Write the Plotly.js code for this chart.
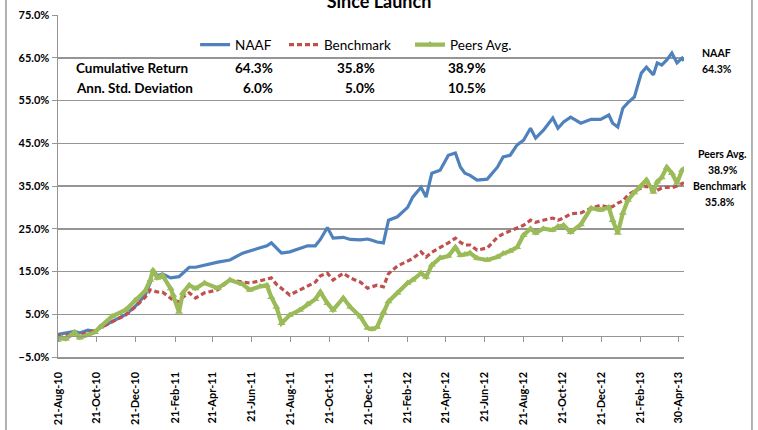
<!DOCTYPE html>
<html>
<head>
<meta charset="utf-8">
<script src="https://cdn.plot.ly/plotly-3.0.1.min.js"></script>
<style>
html,body{margin:0;padding:0;background:#fff;}
#chart{width:758px;height:430px;}
</style>
</head>
<body>
<div id="chart"></div>
<script>
// ---- data ----
const dates = [
'2010-08-21','2010-08-27','2010-09-02','2010-09-16','2010-09-24','2010-10-07','2010-10-18','2010-10-26',
'2010-11-14','2010-12-05','2010-12-20','2011-01-05','2011-01-13','2011-01-17','2011-01-24','2011-02-01',
'2011-02-14','2011-02-18','2011-02-27','2011-03-05','2011-03-15','2011-03-25','2011-04-08','2011-04-29',
'2011-05-18','2011-06-07','2011-06-18','2011-07-04','2011-07-15','2011-07-22','2011-07-30','2011-08-07',
'2011-08-20','2011-09-05','2011-09-17','2011-09-29','2011-10-07','2011-10-18','2011-10-27','2011-11-12',
'2011-11-23','2011-12-09','2011-12-20','2011-12-27','2012-01-04','2012-01-14','2012-01-22','2012-02-05',
'2012-02-21','2012-02-29','2012-03-13','2012-03-21','2012-03-30','2012-04-12','2012-04-25','2012-05-06',
'2012-05-14','2012-05-21','2012-05-29','2012-06-09','2012-06-25','2012-07-11','2012-07-20','2012-07-31',
'2012-08-11','2012-08-21','2012-09-01','2012-09-09','2012-09-21','2012-10-06','2012-10-14','2012-10-23',
'2012-11-03','2012-11-19','2012-12-05','2012-12-20','2013-01-02','2013-01-08','2013-01-16','2013-01-24',
'2013-02-01','2013-02-11','2013-02-22','2013-03-02','2013-03-13','2013-03-19','2013-03-26','2013-04-03',
'2013-04-11','2013-04-19','2013-04-27','2013-04-30'
];
const naaf = [
0.3,0.5,0.6,1.0,0.6,1.3,1.0,1.8,
3.3,4.9,6.8,9.5,12.5,15.5,14.0,14.4,
13.5,13.6,13.8,14.6,16.0,16.0,16.5,17.2,
17.7,19.3,19.8,20.5,21.0,21.7,20.5,19.3,
19.6,20.4,21.0,21.0,22.5,25.3,22.8,23.0,
22.5,22.4,22.6,22.3,21.9,21.7,27.0,27.8,
30.0,32.4,34.7,32.4,38.0,38.7,42.2,42.7,
39.4,38.0,37.5,36.4,36.6,39.4,41.8,42.2,
44.6,45.7,48.5,46.2,48.0,50.9,48.5,50.0,
51.1,49.7,50.6,50.6,51.6,49.7,48.8,53.2,
54.5,55.8,61.4,62.8,61.0,63.8,63.3,64.5,
66.1,63.8,64.9,64.3
];
const bench = [
0.0,-0.2,0.1,0.4,0.2,0.8,1.2,1.8,
3.2,4.8,6.7,9.0,10.7,10.5,10.2,10.2,
8.8,8.3,7.9,9.0,10.0,8.8,10.0,10.7,
13.0,12.5,12.3,12.8,13.2,13.5,12.0,11.1,
9.5,10.7,11.5,12.5,14.0,14.6,13.0,14.6,
13.5,12.5,11.1,11.5,11.8,11.4,14.5,16.3,
17.3,18.0,19.6,18.4,19.5,20.5,21.7,22.8,
21.8,21.2,21.2,20.0,20.5,23.0,23.8,24.5,
25.2,25.8,27.0,26.5,27.0,27.5,27.0,27.5,
28.5,28.7,29.8,30.5,30.0,30.2,31.0,31.5,
32.9,33.8,34.5,35.0,33.6,34.0,34.5,34.7,
34.6,35.0,35.7,35.8
];
const peers = [
-1.0,-0.5,-0.8,0.8,-0.5,0.1,0.8,2.0,
4.5,6.0,8.3,10.5,13.0,15.3,13.5,14.1,
11.0,9.5,5.5,10.0,11.8,11.0,12.3,11.1,
13.0,12.0,10.7,11.5,11.8,9.0,6.7,2.9,
4.8,6.0,7.4,8.5,10.2,7.6,6.0,8.8,
6.7,4.4,1.8,1.5,2.0,5.5,8.0,10.0,
12.3,13.0,14.6,13.7,16.5,18.2,18.6,20.7,
18.8,19.0,19.3,18.1,17.7,18.4,19.2,19.8,
20.7,23.5,25.0,24.0,25.0,24.7,25.5,25.8,
24.2,26.0,29.8,29.4,30.0,27.0,24.0,28.7,
31.7,33.5,35.0,36.4,33.6,36.0,37.0,39.4,
38.0,35.7,38.7,38.9
];
const seriesNames = ['NAAF','Benchmark','Peers Avg.'];
const statLabels = ['Cumulative Return','Ann. Std. Deviation'];
const cumReturn = [64.3, 35.8, 38.9];
const annStdDev = [6.0, 5.0, 10.5];
const tickDates = ['2010-08-21','2010-10-21','2010-12-21','2011-02-21','2011-04-21','2011-06-21',
'2011-08-21','2011-10-21','2011-12-21','2012-02-21','2012-04-21','2012-06-21','2012-08-21',
'2012-10-21','2012-12-21','2013-02-21','2013-04-21'];
const tickLabels = ['21-Aug-10','21-Oct-10','21-Dec-10','21-Feb-11','21-Apr-11','21-Jun-11',
'21-Aug-11','21-Oct-11','21-Dec-11','21-Feb-12','21-Apr-12','21-Jun-12','21-Aug-12',
'21-Oct-12','21-Dec-12','21-Feb-13','30-Apr-13'];
const titleText = 'Since Launch';

// ---- style ----
const FONT = 'Lato, "Open Sans", sans-serif';
const GRID = '#959595';
const colors = ['#4F81BD', '#C0504D', '#9BBB59'];
const xRange = ['2010-08-21', '2013-04-30'];

const traces = [
  {x: dates, y: naaf, name: seriesNames[0], type: 'scatter', mode: 'lines',
   line: {color: colors[0], width: 3.2}, legend: 'legend'},
  {x: dates, y: bench, name: seriesNames[1], type: 'scatter', mode: 'lines',
   line: {color: colors[1], width: 3.2, dash: '5px,3px'}, legend: 'legend2'},
  {x: dates, y: peers, name: seriesNames[2], type: 'scatter', mode: 'lines+markers',
   line: {color: colors[2], width: 4.2},
   marker: {symbol: 'triangle-up', size: 7, color: colors[2]}, legend: 'legend3'},
  // carrier for the 0% axis line with tick marks
  {x: [dates[0]], y: [null], xaxis: 'x2', yaxis: 'y', showlegend: false, hoverinfo: 'skip',
   mode: 'lines'}
];

const bold = (s) => '<b>' + s + '</b>';
const annotations = [];
// statistics table
const valueRightEdges = [0.3466, 0.5096, 0.6869];
const statRowsY = [0.845, 0.7865];
const statRows = [cumReturn, annStdDev];
statLabels.forEach((lab, r) => {
  annotations.push({text: bold(lab), xref: 'paper', yref: 'paper', x: 0.025, y: statRowsY[r],
    xanchor: 'left', yanchor: 'middle', showarrow: false, font: {family: FONT, size: 13.5, color: '#000'}});
  statRows[r].forEach((v, c) => {
    annotations.push({text: bold(v.toFixed(1) + '%'), xref: 'paper', yref: 'paper', x: valueRightEdges[c],
      y: statRowsY[r], xanchor: 'right', yanchor: 'middle', showarrow: false,
      font: {family: FONT, size: 13.5, color: '#000'}});
  });
});
// end labels
const endX = [1.0527, 1.0575, 1.0623];
const endShift = [0, -11, 7];
[0, 2, 1].forEach((i) => {
  annotations.push({text: bold(seriesNames[i]), xref: 'paper', yref: 'y', x: endX[i], y: cumReturn[i],
    yshift: endShift[i] + 8, xanchor: 'center', yanchor: 'middle', showarrow: false,
    font: {family: FONT, size: 10.5, color: '#000'}});
  annotations.push({text: bold(cumReturn[i].toFixed(1) + '%'), xref: 'paper', yref: 'y', x: endX[i], y: cumReturn[i],
    yshift: endShift[i] - 8, xanchor: 'center', yanchor: 'middle', showarrow: false,
    font: {family: FONT, size: 10.5, color: '#000'}});
});

const legendBase = {orientation: 'h', yanchor: 'middle', xanchor: 'left', y: 0.913,
  bgcolor: 'rgba(0,0,0,0)', borderwidth: 0, font: {family: FONT, size: 13.5, color: '#000'},
  itemwidth: 30, tracegroupgap: 0};

const layout = {
  width: 758, height: 430,
  margin: {l: 58, r: 74, t: 15, b: 73, pad: 0},
  paper_bgcolor: '#fff', plot_bgcolor: '#fff',
  font: {family: FONT, color: '#000'},
  title: {text: bold(titleText), font: {family: FONT, size: 18, color: '#000'},
    xref: 'container', yref: 'container', x: 0.5, xanchor: 'center', y: 0.982, yanchor: 'bottom'},
  showlegend: true,
  legend: Object.assign({}, legendBase, {x: 0.219}),
  legend2: Object.assign({}, legendBase, {x: 0.3610}),
  legend3: Object.assign({}, legendBase, {x: 0.5623}),
  xaxis: {type: 'date', range: xRange, tickmode: 'array', tickvals: tickDates, ticktext: tickLabels,
    tickangle: -90, tickfont: {family: FONT, size: 11, color: '#000', weight: 'bold'},
    showgrid: false, zeroline: false, showline: true, linecolor: GRID, linewidth: 1.5,
    ticks: '', ticklabelstandoff: 9, fixedrange: true},
  xaxis2: {type: 'date', range: xRange, overlaying: 'x', anchor: 'free', position: 0.0625,
    tickmode: 'array', tickvals: tickDates, showticklabels: false, ticks: 'outside', ticklen: 5,
    tickcolor: GRID, tickwidth: 1, showline: true, linecolor: GRID, linewidth: 1.5,
    showgrid: false, zeroline: false},
  yaxis: {range: [-5, 75], tick0: -5, dtick: 10, tickformat: '.1f', ticksuffix: '%',
    tickfont: {family: FONT, size: 11, color: '#000', weight: 'bold'},
    showgrid: true, gridcolor: GRID, gridwidth: 1.5, zeroline: false,
    showline: true, linecolor: GRID, linewidth: 1.5, ticks: 'outside', ticklen: 5,
    tickcolor: GRID, fixedrange: true},
  annotations: annotations,
  shapes: [{type: 'rect', xref: 'paper', yref: 'paper', x0: -0.0831, x1: 1.1086, y0: -0.25, y1: 1.08,
    line: {color: '#9a9a9a', width: 1.5}, fillcolor: 'rgba(0,0,0,0)', layer: 'below'}]
};

Plotly.newPlot('chart', traces, layout, {displayModeBar: false, staticPlot: true});
</script>
</body>
</html>
